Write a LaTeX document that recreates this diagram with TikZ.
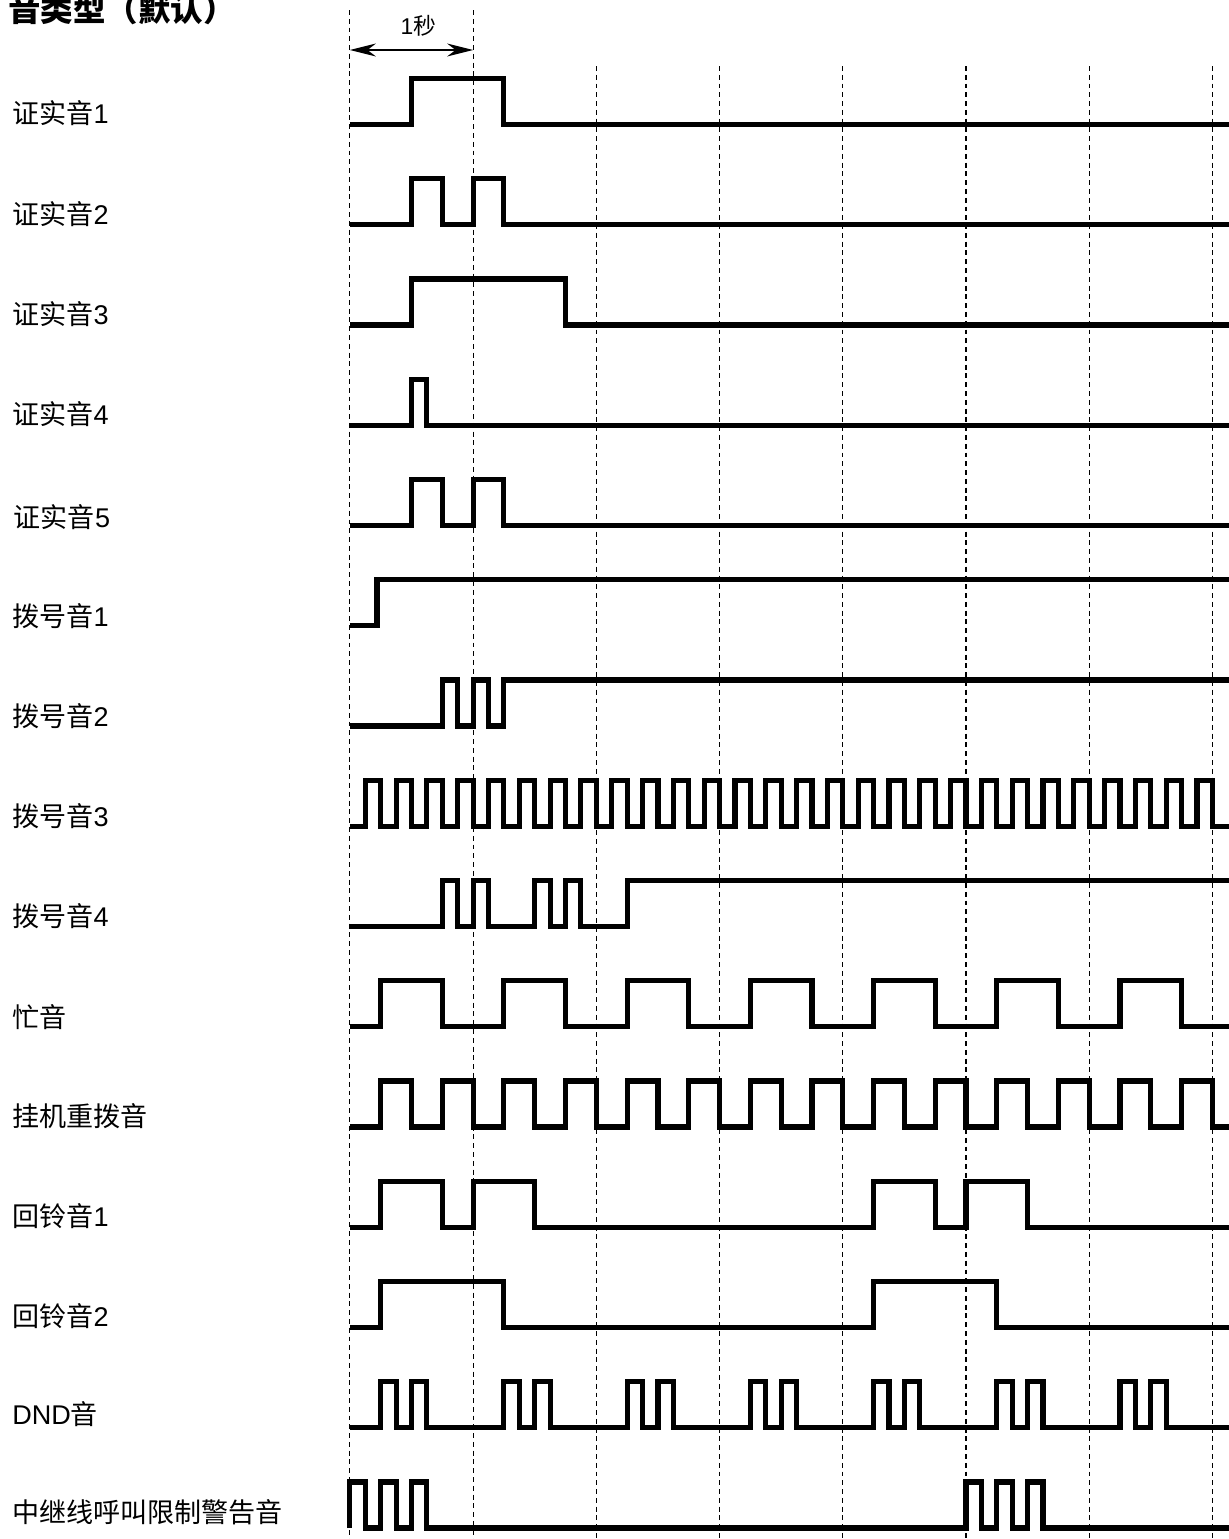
\documentclass[tikz,border=0pt]{standalone}
\usepackage{fontspec}
\setmainfont{Liberation Sans}
\newfontfamily\cjk{Noto Sans CJK SC}
\usetikzlibrary{arrows.meta}

\tikzset{
  wave/.style={line width=2.9pt, line join=miter},
  secline/.style={line width=0.6pt, dash pattern=on 2.8pt off 2.2pt},
  tonelabel/.style={anchor=west, inner sep=0pt, font=\fontsize{15.4pt}{18pt}\selectfont},
}

\begin{document}
\begin{tikzpicture}[x=2.4648cm, y=-0.02cm]
  \useasboundingbox (-2.8399,0) rectangle (7.1324,1539);

  % Title
  \node[anchor=west, inner sep=0pt, font=\cjk\bfseries\fontsize{18.5pt}{22pt}\selectfont] (title) at (-2.775,9) {音类型（默认）};

  % Second marks
  \draw[secline] (0,10) -- (0,1539);
  \draw[secline] (1,10) -- (1,1539);
  \foreach \s in {2,...,7}
    \draw[secline] (\s,66) -- (\s,1539);

  % One second
  \coordinate (secstart) at (0,50);
  \coordinate (secend) at (1,50);
  \draw[{Stealth[length=0.52cm,width=0.26cm]}-{Stealth[length=0.52cm,width=0.26cm]}, line width=0.75pt] (secstart) -- (secend);
  \node[inner sep=0pt, font=\fontsize{13pt}{15pt}\selectfont] (onesec) at (0.555,26) {1{\cjk 秒}};

  % Confirmation tones
  \node[tonelabel] (confirm1) at (-2.7426,113.5) {{\cjk 证实音}1};
  \draw[wave] (0,124.5) -| (0.5,78.5) -| (1.25,124.5) -- (7.3,124.5);

  \node[tonelabel] (confirm2) at (-2.7426,213.75) {{\cjk 证实音}2};
  \draw[wave] (0,224.75) -| (0.5,178.75) -| (0.75,224.75) -| (1,178.75) -| (1.25,224.75) -- (7.3,224.75);

  \node[tonelabel] (confirm3) at (-2.7426,314) {{\cjk 证实音}3};
  \draw[wave] (0,325) -| (0.5,279) -| (1.75,325) -- (7.3,325);

  \node[tonelabel] (confirm4) at (-2.7426,414.25) {{\cjk 证实音}4};
  \draw[wave] (0,425.25) -| (0.5,379.25) -| (0.625,425.25) -- (7.3,425.25);

  \node[tonelabel] (confirm5) at (-2.7304,517.5) {{\cjk 证实音}5};
  \draw[wave] (0,525.5) -| (0.5,479.5) -| (0.75,525.5) -| (1,479.5) -| (1.25,525.5) -- (7.3,525.5);

  % Dial tones
  \node[tonelabel] (dial1) at (-2.7426,615.75) {{\cjk 拨号音}1};
  \draw[wave] (0,625.75) -| (0.22,579.75) -- (7.3,579.75);

  \node[tonelabel] (dial2) at (-2.7426,716) {{\cjk 拨号音}2};
  \draw[wave] (0,726) -| (0.75,680) -| (0.875,726) -| (1,680) -| (1.125,726) -| (1.25,680) -- (7.3,680);

  \node[tonelabel] (dial3) at (-2.7426,816.25) {{\cjk 拨号音}3};
  \draw[wave] (0,826.25) \foreach \k in {0,...,27} { -| ({0.125+0.25*\k},780.25) -| ({0.25+0.25*\k},826.25) } -- (7.3,826.25);

  \node[tonelabel] (dial4) at (-2.7426,916.5) {{\cjk 拨号音}4};
  \draw[wave] (0,926.5) -| (0.75,880.5) -| (0.875,926.5) -| (1,880.5) -| (1.125,926.5)
    -| (1.5,880.5) -| (1.625,926.5) -| (1.75,880.5) -| (1.875,926.5) -| (2.25,880.5) -- (7.3,880.5);

  % Busy and redial
  \node[tonelabel] (busy) at (-2.7426,1016.75) {{\cjk 忙音}};
  \draw[wave] (0,1026.75) \foreach \k in {0,...,6} { -| ({\k+0.25},980.75) -| ({\k+0.75},1026.75) } -- (7.3,1026.75);

  \node[tonelabel] (redial) at (-2.7426,1116) {{\cjk 挂机重拨音}};
  \draw[wave] (0,1127) \foreach \k in {0,...,13} { -| ({0.25+0.5*\k},1081) -| ({0.5+0.5*\k},1127) } -- (7.3,1127);

  % Ringback tones
  \node[tonelabel] (ringback1) at (-2.7426,1216.25) {{\cjk 回铃音}1};
  \draw[wave] (0,1227.25) \foreach \k in {0,4} { -| ({\k+0.25},1181.25) -| ({\k+0.75},1227.25) -| ({\k+1},1181.25) -| ({\k+1.5},1227.25) } -- (7.3,1227.25);

  \node[tonelabel] (ringback2) at (-2.7426,1316.5) {{\cjk 回铃音}2};
  \draw[wave] (0,1327.5) \foreach \k in {0,4} { -| ({\k+0.25},1281.5) -| ({\k+1.25},1327.5) } -- (7.3,1327.5);

  % DND
  \node[tonelabel] (dnd) at (-2.7426,1414) {DND{\cjk 音}};
  \draw[wave] (0,1427.75) \foreach \k in {0,...,6} { -| ({\k+0.25},1381.75) -| ({\k+0.375},1427.75) -| ({\k+0.5},1381.75) -| ({\k+0.625},1427.75) } -- (7.3,1427.75);

  % Trunk restriction warning
  \node[tonelabel] (trunkwarn) at (-2.7426,1512) {{\cjk 中继线呼叫限制警告音}};
  \draw[wave] (0,1528) \foreach \k in {0,5} { -| (\k,1482) -| ({\k+0.125},1528) -| ({\k+0.25},1482) -| ({\k+0.375},1528) -| ({\k+0.5},1482) -| ({\k+0.625},1528) } -- (7.3,1528);
\end{tikzpicture}
\end{document}
